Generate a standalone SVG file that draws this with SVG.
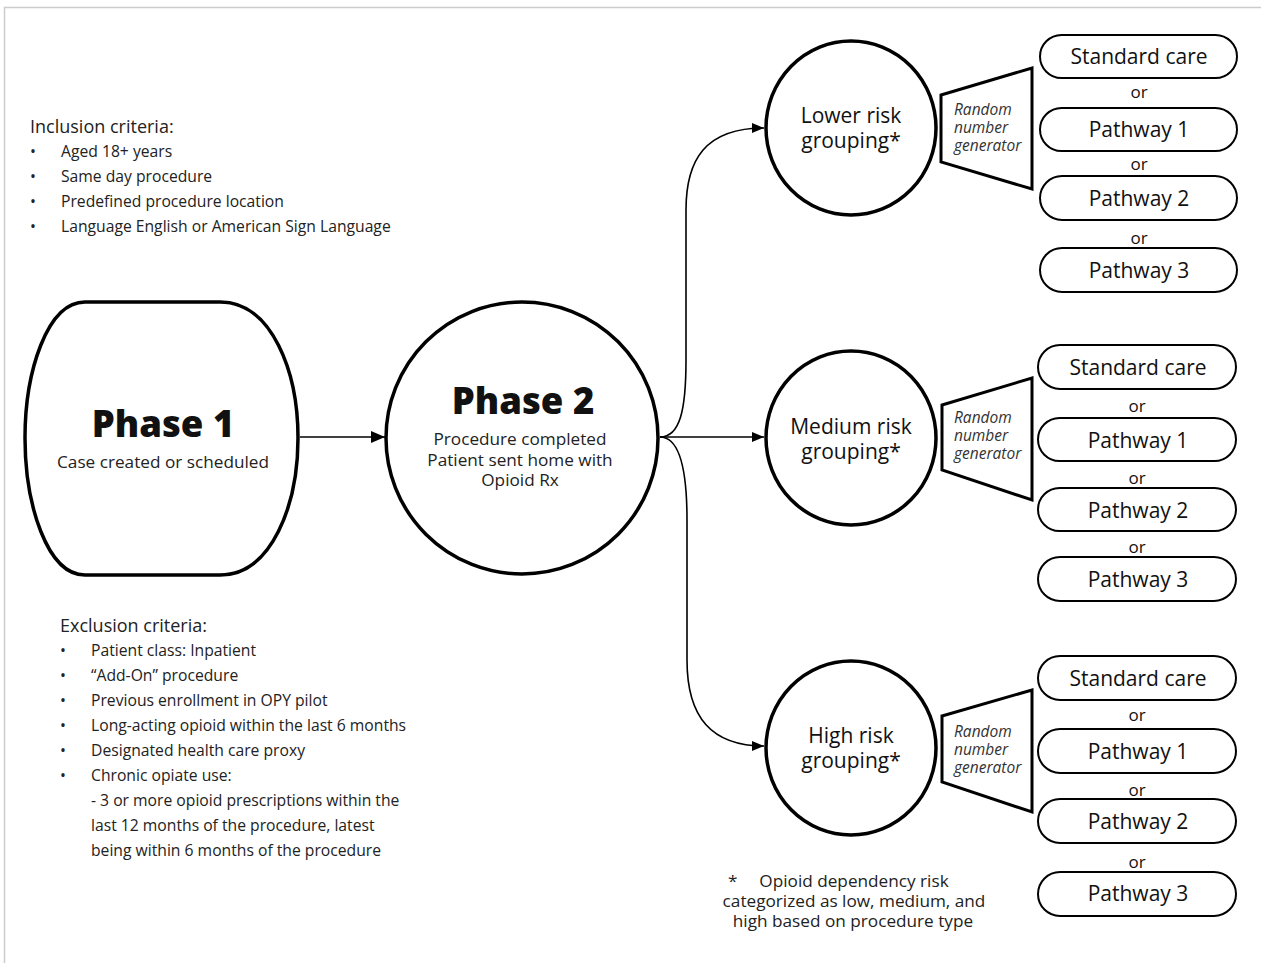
<svg xmlns="http://www.w3.org/2000/svg" width="1261" height="963" viewBox="0 0 1261 963">
<defs>
<marker id="ah" viewBox="0 0 12 10" refX="12" refY="5" markerWidth="12" markerHeight="10" markerUnits="userSpaceOnUse" orient="auto">
<path d="M0,0 L12,5 L0,10 Z" fill="#000"/>
</marker>
<marker id="ahb" viewBox="0 0 14 12" refX="14" refY="6" markerWidth="14" markerHeight="12" markerUnits="userSpaceOnUse" orient="auto">
<path d="M0,0 L14,6 L0,12 Z" fill="#000"/>
</marker>
</defs>
<style>
text{font-family:"Open Sans","Noto Sans","Liberation Sans",sans-serif;fill:#222}
.big{font-size:36.5px;font-weight:800;fill:#111;text-anchor:middle}
.sub{font-size:17.2px;text-anchor:middle}
.crit{font-size:15.7px}
.hdr{font-size:18px}
.risk{font-size:21px;font-weight:500;text-anchor:middle;fill:#111}
.pw{font-size:21px;font-weight:500;text-anchor:middle;fill:#111}
.or{font-size:17px;text-anchor:middle;fill:#111}
.rng{font-size:15.5px;font-style:italic;fill:#333}
.thick{fill:#fff;stroke:#000;stroke-width:3.5}
.box{fill:#fff;stroke:#000;stroke-width:2}
.trap{fill:#fff;stroke:#000;stroke-width:3}
.conn{fill:none;stroke:#000;stroke-width:1.6}
</style>
<rect width="1261" height="963" fill="#fff"/>
<path d="M4.5,963 V7.5 H1261" fill="none" stroke="#ccc" stroke-width="1.5"/>

<g id="inclusion">
<text class="hdr" x="30" y="133">Inclusion criteria:</text>
<text class="crit" x="30" y="157">•</text><text class="crit" x="61" y="157">Aged 18+ years</text>
<text class="crit" x="30" y="182">•</text><text class="crit" x="61" y="182">Same day procedure</text>
<text class="crit" x="30" y="207">•</text><text class="crit" x="61" y="207">Predefined procedure location</text>
<text class="crit" x="30" y="232">•</text><text class="crit" x="61" y="232">Language English or American Sign Language</text>
</g>

<g id="exclusion">
<text class="hdr" x="60" y="632">Exclusion criteria:</text>
<text class="crit" x="60" y="656">•</text><text class="crit" x="91" y="656">Patient class: Inpatient</text>
<text class="crit" x="60" y="681">•</text><text class="crit" x="91" y="681">“Add-On” procedure</text>
<text class="crit" x="60" y="706">•</text><text class="crit" x="91" y="706">Previous enrollment in OPY pilot</text>
<text class="crit" x="60" y="731">•</text><text class="crit" x="91" y="731">Long-acting opioid within the last 6 months</text>
<text class="crit" x="60" y="756">•</text><text class="crit" x="91" y="756">Designated health care proxy</text>
<text class="crit" x="60" y="781">•</text><text class="crit" x="91" y="781">Chronic opiate use:</text>
<text class="crit" x="91" y="806">- 3 or more opioid prescriptions within the</text>
<text class="crit" x="91" y="831">last 12 months of the procedure, latest</text>
<text class="crit" x="91" y="856">being within 6 months of the procedure</text>
</g>

<g id="connectors">
<line class="conn" x1="300" y1="437" x2="385" y2="437" stroke-width="3" marker-end="url(#ahb)"/>
<path class="conn" d="M660,437 C680,437 686,410 686,360 L686,210 C686,160 705,128 764,128" marker-end="url(#ah)"/>
<line class="conn" x1="660" y1="437" x2="764" y2="437" marker-end="url(#ah)"/>
<path class="conn" d="M660,437 C680,437 687,470 687,520 L687,660 C687,718 712,746 764,746" marker-end="url(#ah)"/>
</g>

<g id="phase1">
<path class="thick" d="M85,302 L220,302 C272,302 298,372 298,438 C298,504 272,575 220,575 L85,575 C47,575 25,504 25,438 C25,372 47,302 85,302 Z"/>
<text class="big" x="163" y="437">Phase 1</text>
<text class="sub" x="163" y="468">Case created or scheduled</text>
</g>

<g id="phase2">
<ellipse class="thick" cx="522" cy="438" rx="136" ry="136"/>
<text class="big" x="523" y="414">Phase 2</text>
<text class="sub" x="520" y="445">Procedure completed</text>
<text class="sub" x="520" y="466">Patient sent home with</text>
<text class="sub" x="520" y="486">Opioid Rx</text>
</g>

<g id="lower-risk">
<ellipse class="thick" cx="851" cy="128" rx="85" ry="87"/>
<text class="risk" x="851" y="123">Lower risk</text>
<text class="risk" x="851" y="148">grouping*</text>
</g>
<g id="medium-risk">
<ellipse class="thick" cx="851" cy="438" rx="85" ry="87"/>
<text class="risk" x="851" y="434">Medium risk</text>
<text class="risk" x="851" y="459">grouping*</text>
</g>
<g id="high-risk">
<ellipse class="thick" cx="851" cy="748" rx="85" ry="87"/>
<text class="risk" x="851" y="743">High risk</text>
<text class="risk" x="851" y="768">grouping*</text>
</g>

<g id="rng-lower">
<polygon class="trap" points="941,95 1032,68 1032,189 941,162"/>
<text class="rng" x="954" y="115">Random</text>
<text class="rng" x="954" y="133">number</text>
<text class="rng" x="954" y="151">generator</text>
</g>
<g id="rng-medium">
<polygon class="trap" points="942,405 1032,378 1032,500 942,470"/>
<text class="rng" x="954" y="423">Random</text>
<text class="rng" x="954" y="441">number</text>
<text class="rng" x="954" y="459">generator</text>
</g>
<g id="rng-high">
<polygon class="trap" points="942,716 1032,690 1032,812 942,782"/>
<text class="rng" x="954" y="737">Random</text>
<text class="rng" x="954" y="755">number</text>
<text class="rng" x="954" y="773">generator</text>
</g>

<g id="lower-standard"><rect class="box" x="1040" y="35" width="197" height="43" rx="21.5"/><text class="pw" x="1139" y="64">Standard care</text></g>
<text class="or" x="1139" y="98">or</text>
<g id="lower-p1"><rect class="box" x="1040" y="108" width="197" height="43" rx="21.5"/><text class="pw" x="1139" y="137">Pathway 1</text></g>
<text class="or" x="1139" y="170">or</text>
<g id="lower-p2"><rect class="box" x="1040" y="176" width="197" height="44" rx="22"/><text class="pw" x="1139" y="206">Pathway 2</text></g>
<text class="or" x="1139" y="244">or</text>
<g id="lower-p3"><rect class="box" x="1040" y="248" width="197" height="44" rx="22"/><text class="pw" x="1139" y="278">Pathway 3</text></g>

<g id="medium-standard"><rect class="box" x="1038" y="345" width="198" height="44" rx="22"/><text class="pw" x="1138" y="375">Standard care</text></g>
<text class="or" x="1137" y="412">or</text>
<g id="medium-p1"><rect class="box" x="1038" y="418" width="198" height="43" rx="21.5"/><text class="pw" x="1138" y="448">Pathway 1</text></g>
<text class="or" x="1137" y="484">or</text>
<g id="medium-p2"><rect class="box" x="1038" y="488" width="198" height="43" rx="21.5"/><text class="pw" x="1138" y="518">Pathway 2</text></g>
<text class="or" x="1137" y="553">or</text>
<g id="medium-p3"><rect class="box" x="1038" y="557" width="198" height="44" rx="22"/><text class="pw" x="1138" y="587">Pathway 3</text></g>

<g id="high-standard"><rect class="box" x="1038" y="656" width="198" height="44" rx="22"/><text class="pw" x="1138" y="686">Standard care</text></g>
<text class="or" x="1137" y="721">or</text>
<g id="high-p1"><rect class="box" x="1038" y="729" width="198" height="44" rx="22"/><text class="pw" x="1138" y="759">Pathway 1</text></g>
<text class="or" x="1137" y="796">or</text>
<g id="high-p2"><rect class="box" x="1038" y="799" width="198" height="44" rx="22"/><text class="pw" x="1138" y="829">Pathway 2</text></g>
<text class="or" x="1137" y="868">or</text>
<g id="high-p3"><rect class="box" x="1038" y="872" width="198" height="44" rx="22"/><text class="pw" x="1138" y="901">Pathway 3</text></g>

<g id="footnote">
<text class="sub" x="728" y="887" style="text-anchor:start">*</text>
<text class="sub" x="854" y="887">Opioid dependency risk</text>
<text class="sub" x="854" y="907">categorized as low, medium, and</text>
<text class="sub" x="853" y="927">high based on procedure type</text>
</g>
</svg>
